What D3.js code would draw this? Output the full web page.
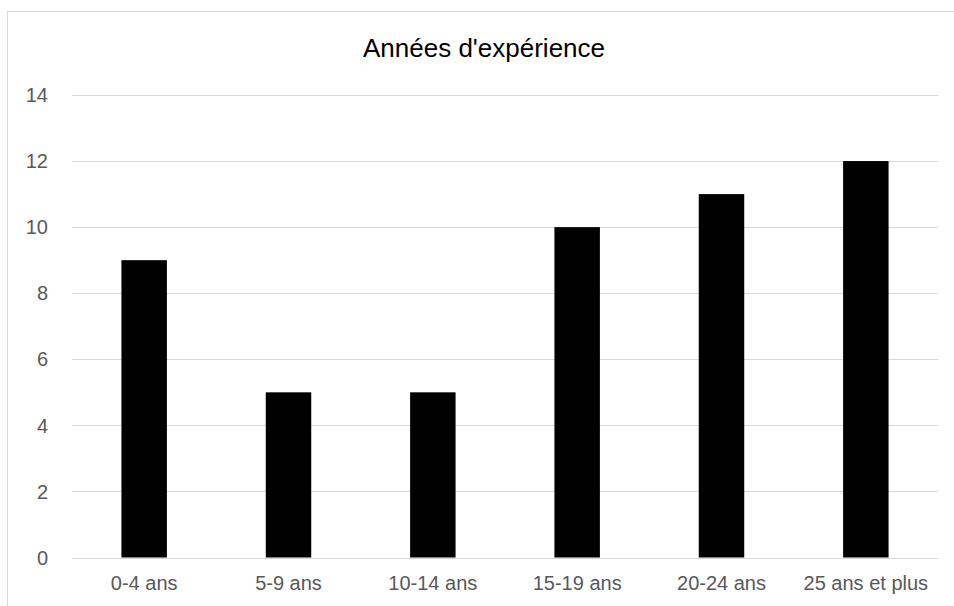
<!DOCTYPE html>
<html>
<head>
<meta charset="utf-8">
<script src="https://cdn.jsdelivr.net/npm/d3@7"></script>
<style>
  body { margin: 0; background: #fff; }
  svg { display: block; font-family: "Liberation Sans", Arial, sans-serif; }
</style>
</head>
<body>
<div id="chart"></div>
<script>
const title = "Années d'expérience";
const categories = ['0-4 ans', '5-9 ans', '10-14 ans', '15-19 ans', '20-24 ans', '25 ans et plus'];
const values = [9, 5, 5, 10, 11, 12];
const yTicks = [0, 2, 4, 6, 8, 10, 12, 14];

const width = 954, height = 606;
const margin = { top: 95, right: 16, bottom: 48.5, left: 72 };

const svg = d3.select('#chart').append('svg')
    .attr('width', width)
    .attr('height', height);

// chart frame (bottom and right fall outside the picture)
svg.append('rect')
    .attr('x', 7.5).attr('y', 11.5)
    .attr('width', 960).attr('height', 620)
    .attr('fill', 'none')
    .attr('stroke', '#d9d9d9')
    .attr('stroke-width', 1);

const x = d3.scaleBand()
    .domain(categories)
    .range([margin.left, width - margin.right])
    .padding(0);

const y = d3.scaleLinear()
    .domain([0, 14])
    .range([height - margin.bottom, margin.top]);

// gridlines
svg.append('g')
    .selectAll('line')
    .data(yTicks)
    .enter().append('line')
    .attr('x1', margin.left)
    .attr('x2', width - margin.right)
    .attr('y1', d => Math.round(y(d)) + 0.5)
    .attr('y2', d => Math.round(y(d)) + 0.5)
    .attr('stroke', '#d9d9d9')
    .attr('stroke-width', 1);

// y tick labels
svg.append('g')
    .selectAll('text')
    .data(yTicks)
    .enter().append('text')
    .attr('x', 48)
    .attr('y', d => y(d))
    .attr('dy', '0.36em')
    .attr('text-anchor', 'end')
    .attr('fill', '#595959')
    .style('font-size', '20px')
    .text(d => d);

// bars
const barW = x.bandwidth() * 0.315;
svg.append('g')
    .selectAll('rect')
    .data(values)
    .enter().append('rect')
    .attr('x', (d, i) => x(categories[i]) + x.bandwidth() / 2 - barW / 2)
    .attr('y', d => y(d))
    .attr('width', barW)
    .attr('height', d => y(0) - y(d))
    .attr('fill', '#000');

// x labels
svg.append('g')
    .selectAll('text')
    .data(categories)
    .enter().append('text')
    .attr('x', d => x(d) + x.bandwidth() / 2)
    .attr('y', y(0) + 32.5)
    .attr('text-anchor', 'middle')
    .attr('fill', '#595959')
    .style('font-size', '20px')
    .text(d => d);

svg.append('text')
    .attr('x', 484)
    .attr('y', 57)
    .attr('text-anchor', 'middle')
    .attr('fill', '#000')
    .style('font-size', '26px')
    .text(title);
</script>
</body>
</html>
